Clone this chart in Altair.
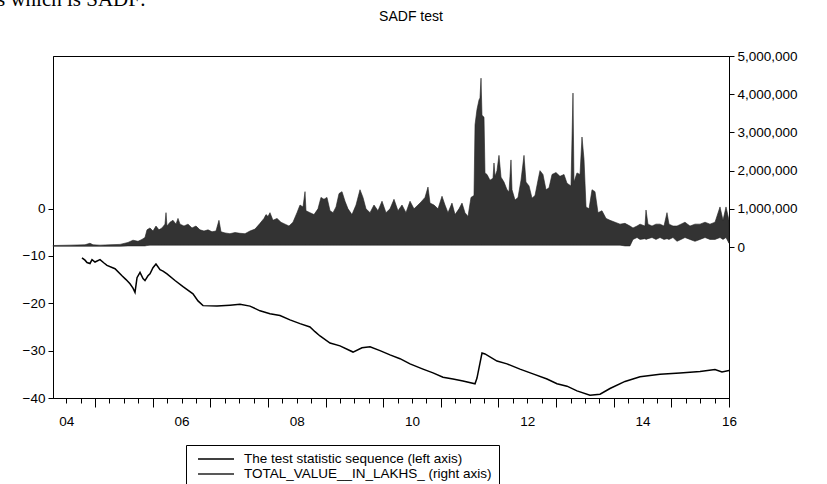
import altair as alt
import pandas as pd

chart_title = "SADF test"
doc_text = "s which is SADF:"
series_names = ["The test statistic sequence (left axis)", "TOTAL_VALUE__IN_LAKHS_ (right axis)"]

# SADF test statistic sequence (left axis)
sadf_year = [2004.773, 2004.825, 2004.860, 2004.912, 2004.947, 2004.999, 2005.086, 2005.155, 2005.207,
             2005.346, 2005.467, 2005.537, 2005.606, 2005.658, 2005.693, 2005.728, 2005.780, 2005.832,
             2005.866, 2005.918, 2005.953, 2006.005, 2006.057, 2006.127, 2006.179, 2006.248, 2006.387,
             2006.526, 2006.699, 2006.786, 2006.873, 2007.116, 2007.341, 2007.515, 2007.688, 2007.862,
             2008.035, 2008.209, 2008.382, 2008.556, 2008.729, 2008.816, 2008.903, 2009.077, 2009.250,
             2009.476, 2009.632, 2009.771, 2009.944, 2010.118, 2010.291, 2010.465, 2010.690, 2010.864,
             2011.037, 2011.211, 2011.384, 2011.593, 2011.627, 2011.714, 2011.766, 2011.974, 2012.148,
             2012.373, 2012.599, 2012.842, 2013.015, 2013.189, 2013.362, 2013.588, 2013.762, 2013.935,
             2014.195, 2014.456, 2014.803, 2015.150, 2015.497, 2015.757, 2015.878, 2016.000]
sadf_value = [-10.4, -10.9, -11.4, -11.6, -10.8, -11.3, -10.8, -11.5, -12.0,
              -12.7, -14.2, -15.0, -15.9, -16.8, -17.7, -14.6, -13.5, -14.8,
              -15.2, -14.2, -13.8, -12.5, -11.7, -12.9, -13.2, -13.8, -15.2,
              -16.5, -18.0, -19.5, -20.5, -20.6, -20.4, -20.2, -20.6, -21.6,
              -22.2, -22.6, -23.5, -24.3, -25.0, -26.0, -26.9, -28.4, -29.0,
              -30.3, -29.4, -29.2, -30.0, -30.9, -31.7, -32.8, -33.9, -34.7,
              -35.6, -36.0, -36.4, -37.0, -35.8, -30.5, -30.7, -32.2, -32.8,
              -33.9, -34.9, -36.0, -37.0, -37.5, -38.5, -39.4, -39.2, -38.0,
              -36.5, -35.5, -35.0, -34.7, -34.4, -34.0, -34.5, -34.2]

# TOTAL_VALUE__IN_LAKHS_ (right axis): low / high envelope of the daily series
vol_year = [2004.270, 2004.565, 2004.825, 2004.912, 2004.964, 2005.086, 2005.259, 2005.433, 2005.571,
            2005.658, 2005.745, 2005.814, 2005.866, 2005.901, 2005.953, 2006.005, 2006.057, 2006.109,
            2006.161, 2006.213, 2006.231, 2006.248, 2006.300, 2006.352, 2006.404, 2006.439, 2006.474,
            2006.543, 2006.613, 2006.682, 2006.751, 2006.821, 2006.890, 2006.960, 2007.029, 2007.098,
            2007.150, 2007.185, 2007.255, 2007.341, 2007.428, 2007.515, 2007.602, 2007.688, 2007.775,
            2007.862, 2007.931, 2007.966, 2008.001, 2008.035, 2008.087, 2008.157, 2008.226, 2008.296,
            2008.365, 2008.434, 2008.504, 2008.556, 2008.608, 2008.643, 2008.660, 2008.729, 2008.799,
            2008.868, 2008.920, 2008.972, 2009.024, 2009.077, 2009.129, 2009.181, 2009.233, 2009.285,
            2009.337, 2009.389, 2009.458, 2009.528, 2009.597, 2009.649, 2009.701, 2009.771, 2009.840,
            2009.909, 2009.979, 2010.048, 2010.118, 2010.187, 2010.256, 2010.326, 2010.395, 2010.465,
            2010.534, 2010.603, 2010.656, 2010.725, 2010.777, 2010.812, 2010.881, 2010.951, 2011.020,
            2011.072, 2011.124, 2011.193, 2011.246, 2011.315, 2011.367, 2011.419, 2011.471, 2011.523,
            2011.575, 2011.593, 2011.627, 2011.662, 2011.679, 2011.697, 2011.714, 2011.749, 2011.766,
            2011.801, 2011.853, 2011.905, 2011.922, 2011.940, 2011.974, 2012.009, 2012.044, 2012.096,
            2012.148, 2012.183, 2012.217, 2012.235, 2012.287, 2012.339, 2012.391, 2012.443, 2012.477,
            2012.530, 2012.582, 2012.634, 2012.686, 2012.720, 2012.772, 2012.825, 2012.877, 2012.929,
            2012.998, 2013.067, 2013.137, 2013.189, 2013.258, 2013.293, 2013.310, 2013.362, 2013.415,
            2013.449, 2013.484, 2013.519, 2013.571, 2013.623, 2013.675, 2013.727, 2013.796, 2013.866,
            2013.935, 2014.022, 2014.109, 2014.195, 2014.282, 2014.334, 2014.404, 2014.456, 2014.542,
            2014.560, 2014.594, 2014.664, 2014.733, 2014.803, 2014.872, 2014.924, 2014.959, 2015.028,
            2015.098, 2015.167, 2015.236, 2015.323, 2015.410, 2015.497, 2015.584, 2015.670, 2015.757,
            2015.844, 2015.896, 2015.948, 2016.000]
vol_low = [20000, 20000, 20000, 20000, 20000, 20000, 20000, 20000, 30000,
           30000, 30000, 30000, 30000, 40000, 50000, 50000, 50000, 50000,
           50000, 50000, 50000, 50000, 50000, 50000, 50000, 50000, 50000,
           50000, 50000, 50000, 50000, 50000, 50000, 50000, 50000, 50000,
           50000, 50000, 50000, 50000, 50000, 50000, 50000, 50000, 50000,
           50000, 50000, 50000, 50000, 50000, 50000, 50000, 50000, 50000,
           50000, 50000, 50000, 50000, 50000, 50000, 50000, 50000, 50000,
           50000, 50000, 50000, 50000, 50000, 50000, 50000, 50000, 50000,
           50000, 50000, 50000, 50000, 50000, 50000, 50000, 50000, 50000,
           50000, 50000, 50000, 50000, 50000, 50000, 50000, 50000, 50000,
           50000, 50000, 50000, 50000, 50000, 50000, 50000, 50000, 50000,
           50000, 50000, 50000, 50000, 50000, 50000, 50000, 50000, 50000,
           50000, 50000, 50000, 50000, 50000, 50000, 50000, 50000, 50000,
           50000, 50000, 50000, 50000, 50000, 50000, 50000, 50000, 50000,
           50000, 50000, 50000, 50000, 50000, 50000, 50000, 50000, 50000,
           50000, 50000, 50000, 50000, 50000, 50000, 50000, 50000, 50000,
           50000, 50000, 50000, 50000, 50000, 50000, 50000, 50000, 50000,
           50000, 50000, 50000, 50000, 50000, 50000, 50000, 50000, 50000,
           50000, 50000, 50000, 30000, 30000, 200000, 250000, 200000, 220000,
           200000, 220000, 250000, 200000, 250000, 200000, 220000, 200000, 250000,
           150000, 200000, 250000, 200000, 150000, 200000, 250000, 200000, 200000,
           250000, 200000, 250000, 100000]
vol_high = [40000, 50000, 60000, 100000, 60000, 50000, 60000, 70000, 120000,
            180000, 150000, 200000, 250000, 450000, 500000, 420000, 550000, 450000,
            500000, 600000, 900000, 550000, 650000, 700000, 600000, 750000, 600000,
            550000, 600000, 500000, 550000, 450000, 420000, 450000, 400000, 420000,
            700000, 400000, 370000, 350000, 380000, 360000, 350000, 420000, 470000,
            620000, 750000, 850000, 800000, 900000, 700000, 750000, 650000, 600000,
            550000, 650000, 900000, 1100000, 1050000, 1450000, 950000, 900000, 850000,
            1000000, 1300000, 1250000, 1300000, 950000, 900000, 1050000, 1400000, 1450000,
            1200000, 1000000, 850000, 1100000, 1500000, 1300000, 1000000, 900000, 1100000,
            950000, 1200000, 900000, 1000000, 1250000, 950000, 1100000, 900000, 1200000,
            1000000, 1100000, 1180000, 1300000, 1570000, 1150000, 1100000, 1000000, 1330000,
            1100000, 900000, 1150000, 850000, 1000000, 1150000, 900000, 800000, 1300000,
            1350000, 3200000, 3600000, 3850000, 3900000, 4420000, 3450000, 3400000, 1940000,
            1900000, 1750000, 1800000, 2200000, 1850000, 2000000, 2400000, 1830000, 1700000,
            1500000, 1450000, 2280000, 1500000, 1230000, 1300000, 1750000, 2400000, 1700000,
            1600000, 1280000, 1350000, 1750000, 2000000, 1900000, 1500000, 1550000, 1900000,
            1950000, 1850000, 1900000, 1670000, 1600000, 4030000, 1700000, 1940000, 1900000,
            2880000, 2300000, 1050000, 1000000, 1500000, 1450000, 900000, 950000, 750000,
            700000, 650000, 600000, 620000, 550000, 500000, 550000, 600000, 550000,
            970000, 600000, 550000, 600000, 600000, 550000, 900000, 600000, 550000,
            550000, 600000, 650000, 550000, 600000, 600000, 650000, 600000, 650000,
            1050000, 700000, 1050000, 700000]

left_ticks = [-40, -30, -20, -10, 0]
right_ticks = [0, 1000000, 2000000, 3000000, 4000000, 5000000]
x_ticks = [2004.5 + 0.25 * i for i in range(47)]

sadf_df = pd.DataFrame({"year": sadf_year, "value": sadf_value, "series": series_names[0]})
vol_df = pd.DataFrame({"year": vol_year, "low": vol_low, "high": vol_high, "series": series_names[1]})
title_df = pd.DataFrame({"t": [chart_title]})
doc_df = pd.DataFrame({"t": [doc_text]})

FONT = "Liberation Sans"

stroke_scale = alt.Scale(domain=series_names, range=["#000000", "#222222"])
legend = alt.Legend(
    title=None, orient="none", legendX=133, legendY=389, direction="vertical",
    symbolType="M-0.33,0H5.67", symbolSize=144, symbolStrokeWidth=1.3,
    labelFont=FONT, labelFontSize=13.5, labelColor="#000000", labelLimit=0,
    strokeColor="#000000", padding=7, rowPadding=1, labelOffset=37,
    fillColor="#ffffff",
)

x_enc = alt.X(
    "year:Q",
    scale=alt.Scale(domain=[2004.27, 2016.0], nice=False, zero=False),
    axis=alt.Axis(
        values=x_ticks, title=None, grid=False,
        labelExpr="datum.value === 2016 ? '16' : (datum.value % 2 === 0.5 ? format(floor(datum.value) - 2000, '02d') : '')",
        tickSize={"condition": {"test": "datum.value % 1 === 0", "value": 9}, "value": 5},
        labelPadding={"condition": {"test": "datum.value === 2016", "value": 7}, "value": 11},
        labelOverlap=False, labelFlush=False, labelFontSize=13.5,
    ),
)

area = alt.Chart(vol_df).mark_area(color="#333333", strokeWidth=0.6, interpolate="linear").encode(
    x=x_enc,
    y=alt.Y("high:Q", scale=alt.Scale(domain=[-3950000, 5000000], nice=False, zero=False),
            axis=alt.Axis(orient="right", values=right_ticks, labelExpr="format(datum.value, ',')",
                          title=None, grid=False, tickSize=5, labelFontSize=13.5, labelPadding=3)),
    y2="low:Q",
    stroke=alt.Stroke("series:N", scale=stroke_scale, legend=legend),
)

line = alt.Chart(sadf_df).mark_line(strokeWidth=1.5).encode(
    x=x_enc,
    y=alt.Y("value:Q", scale=alt.Scale(domain=[-40, 32.2], nice=False, zero=False),
            axis=alt.Axis(orient="left", values=left_ticks, title=None, grid=False, tickSize=5,
                          labelFontSize=13.5, labelPadding=3)),
    stroke=alt.Stroke("series:N", scale=stroke_scale, legend=legend),
)

title_mark = alt.Chart(title_df).mark_text(
    font=FONT, fontSize=14, align="center", baseline="middle", color="#000000"
).encode(x=alt.value(358), y=alt.value(-39), text="t:N")

doc = alt.Chart(doc_df).mark_text(
    font="Liberation Serif", fontSize=21, align="left", baseline="alphabetic", color="#000000"
).encode(x=alt.value(-56), y=alt.value(-50), text="t:N")

chart = alt.layer(area, line, title_mark, doc).resolve_scale(y="independent").properties(
    width=676, height=342,
    autosize=alt.AutoSizeParams(type="none"),
    padding={"left": 53, "top": 56, "right": 98, "bottom": 86},
).configure_view(stroke="#000000", strokeWidth=1).configure_axis(
    domainColor="#000000", tickColor="#000000", labelColor="#000000",
    labelFont=FONT, domainWidth=1, tickWidth=1,
)

chart.save("out.html", embed_options={"renderer": "svg", "actions": False})
